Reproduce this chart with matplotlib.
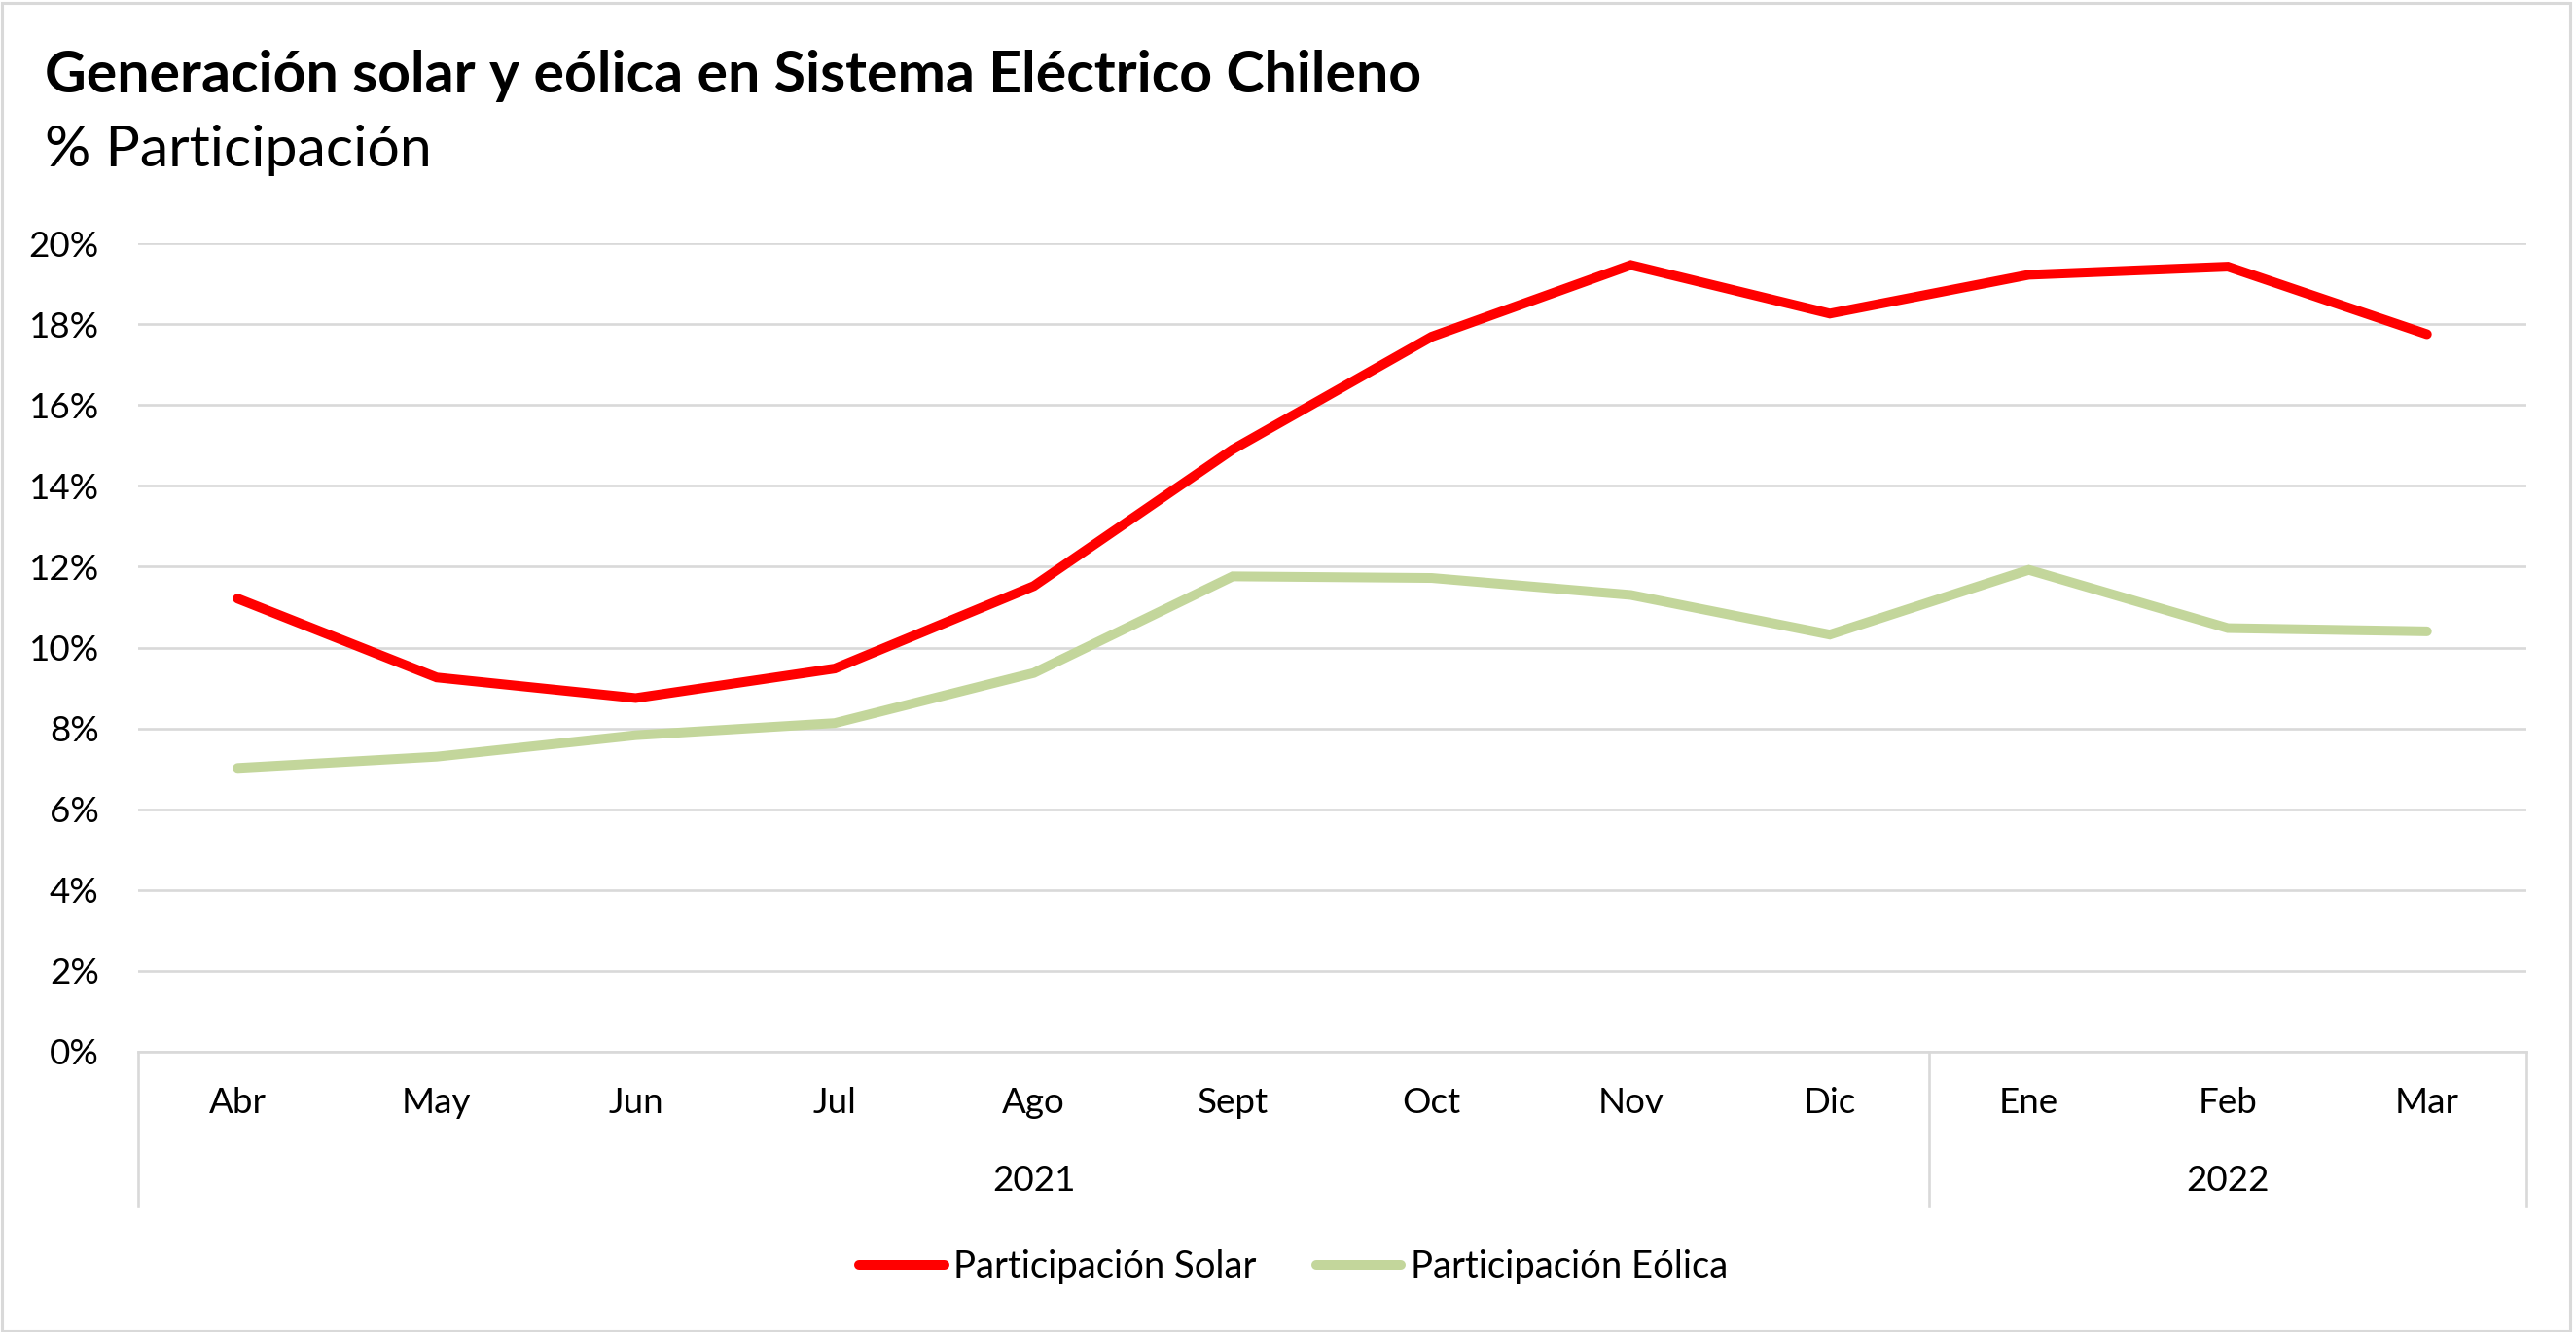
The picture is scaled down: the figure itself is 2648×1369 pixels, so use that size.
import matplotlib
matplotlib.use("Agg")
import matplotlib.pyplot as plt
from matplotlib.lines import Line2D
from matplotlib.patches import Rectangle

# ---- data ----
months = ["Abr", "May", "Jun", "Jul", "Ago", "Sept", "Oct", "Nov", "Dic", "Ene", "Feb", "Mar"]
years = ["2021", "2022"]
year_counts = [9, 3]
solar = [11.21, 9.26, 8.75, 9.48, 11.52, 14.90, 17.69, 19.46, 18.26, 19.22, 19.42, 17.75]
eolica = [7.02, 7.30, 7.83, 8.13, 9.37, 11.76, 11.72, 11.30, 10.32, 11.92, 10.48, 10.40]
yticks = [0, 2, 4, 6, 8, 10, 12, 14, 16, 18, 20]
title = "Generación solar y eólica en Sistema Eléctrico Chileno"
subtitle = "% Participación"
labels = ["Participación Solar", "Participación Eólica"]

RED = "#FF0000"
GREEN = "#C3D69B"
GRID = "#D9D9D9"
FONT = ["Lato", "DejaVu Sans"]

W, H = 2648, 1369
fig = plt.figure(figsize=(W / 100, H / 100), dpi=100)
fig.patch.set_facecolor("white")

# outer frame
fig.add_artist(Rectangle((1.5 / W, 1.5 / H), 1 - 8 / W, 1 - 4 / H, transform=fig.transFigure,
                         fill=False, edgecolor=GRID, linewidth=2.2))

L, R, T, B = 142, 2597, 250, 1081
ax = fig.add_axes([L / W, 1 - B / H, (R - L) / W, (B - T) / H])
n = len(months)
x = [i + 0.5 for i in range(n)]
ax.set_xlim(0, n)
ax.set_ylim(0, 20)

ax.plot(x, solar, color=RED, lw=7.2, solid_capstyle="round", solid_joinstyle="miter", zorder=3)
ax.plot(x, eolica, color=GREEN, lw=7.2, solid_capstyle="round", solid_joinstyle="miter", zorder=2)

for s in ["top", "right", "left"]:
    ax.spines[s].set_visible(False)
ax.spines["bottom"].set_color(GRID)
ax.spines["bottom"].set_linewidth(1.9)

ax.set_yticks(yticks)
ax.set_yticklabels([f"{v}%" for v in yticks], fontfamily=FONT, fontsize=26.5, color="black")
ax.tick_params(axis="y", length=0, pad=29)
ax.yaxis.grid(True, color=GRID, linewidth=1.9)
ax.set_axisbelow(True)

ax.set_xticks([])
trans = ax.get_xaxis_transform()
ph = B - T
for xi, m in zip(x, months):
    ax.text(xi, -(1133 - B) / ph, m, transform=trans, ha="center", va="center",
            fontfamily=FONT, fontsize=26.5, color="black")

# year groups & separators
start = 0
bounds = [0]
for yr, c in zip(years, year_counts):
    ax.text(start + c / 2, -(1213 - B) / ph, yr, transform=trans, ha="center", va="center",
            fontfamily=FONT, fontsize=26.5, color="black")
    start += c
    bounds.append(start)
for bx in bounds:
    ax.add_line(Line2D([bx, bx], [0, -(1240 - B) / ph], transform=trans, color=GRID,
                       lw=1.9, clip_on=False))

# titles
fig.text(46 / W, 1 - 95 / H, title, fontfamily=FONT, fontweight="bold", fontsize=42.5,
         ha="left", va="baseline", color="black")
fig.text(46 / W, 1 - 171 / H, subtitle, fontfamily=FONT, fontsize=42.5,
         ha="left", va="baseline", color="black")

# legend
handles = [Line2D([], [], color=RED, lw=7.2, solid_capstyle="round"),
           Line2D([], [], color=GREEN, lw=7.2, solid_capstyle="round")]
fig.legend(handles, labels, loc="center", bbox_to_anchor=(1329.5 / W, 1 - 1302 / H),
           bbox_transform=fig.transFigure, ncol=2, frameon=False,
           prop={"family": FONT, "size": 27.5}, handlelength=2.3, handletextpad=0.25,
           columnspacing=1.6)

fig.savefig("out.png", dpi=100, facecolor="white")
